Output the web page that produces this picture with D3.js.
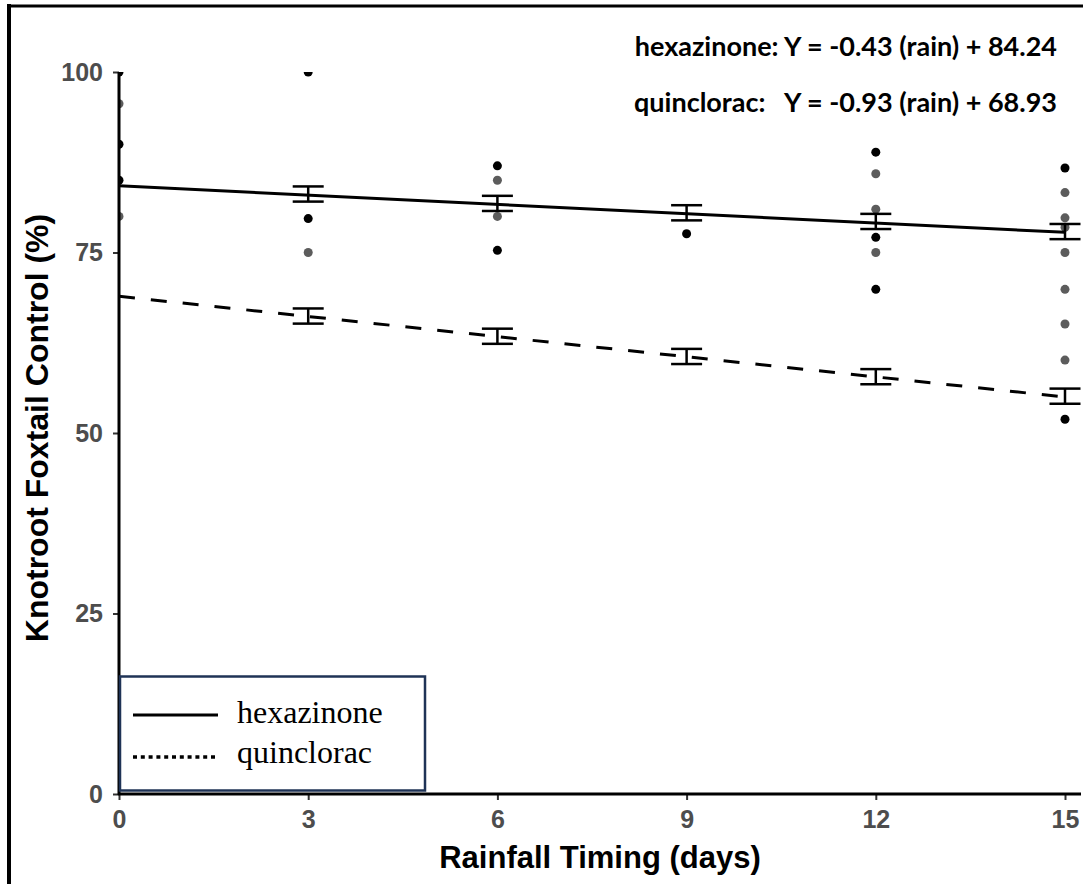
<!DOCTYPE html>
<html>
<head>
<meta charset="utf-8">
<script src="https://cdn.jsdelivr.net/npm/d3@7"></script>
<style>
  html, body { margin: 0; padding: 0; background: #fff; }
  svg { display: block; }
</style>
</head>
<body>
<svg id="chart" width="1083" height="884"></svg>
<script>
// ---------- data ----------
const xTicks = [0, 3, 6, 9, 12, 15];
const yTicks = [0, 25, 50, 75, 100];
const meanDays = [3, 6, 9, 12, 15];
const hexMean = [83.1, 81.8, 80.5, 79.3, 77.9];
const hexSE = [1.05, 1.05, 1.05, 1.05, 1.05];
const quinMean = [66.2, 63.4, 60.6, 57.8, 55.1];
const quinSE = [1.05, 1.05, 1.05, 1.05, 1.05];
const hexCoef = [84.24, -0.43];   // intercept, slope
const quinCoef = [68.93, -0.93];
const darkPoints = [[0,100],[0,90],[0,85],[3,100],[3,79.7],[6,87],[6,75.3],[9,77.6],[12,88.9],[12,77.1],[12,69.9],[15,86.7],[15,51.9]];
const grayPoints = [[0,95.6],[0,80],[3,75],[6,85],[6,80],[12,85.9],[12,81],[12,75],[15,83.3],[15,79.8],[15,78.5],[15,75],[15,69.9],[15,65.1],[15,60.1]];
const equations = ["hexazinone: Y = -0.43 (rain) + 84.24", "quinclorac:   Y = -0.93 (rain) + 68.93"];
const legendLabels = ["hexazinone", "quinclorac"];
const xTitle = "Rainfall Timing (days)";
const yTitle = "Knotroot Foxtail Control (%)";

// ---------- layout ----------
const svg = d3.select("#chart");
const x = d3.scaleLinear().domain([0, 15]).range([119, 1065]);
const y = d3.scaleLinear().domain([0, 100]).range([794, 72]);

svg.append("rect").attr("width", 1083).attr("height", 884).attr("fill", "#fff");

// outer frame (left and top)
svg.append("line").attr("x1", 9).attr("x2", 9).attr("y1", 4).attr("y2", 884)
  .attr("stroke", "#000").attr("stroke-width", 4);
svg.append("line").attr("x1", 7).attr("x2", 1083).attr("y1", 6).attr("y2", 6)
  .attr("stroke", "#000").attr("stroke-width", 3);

// clip
svg.append("clipPath").attr("id", "plotclip").append("rect")
  .attr("x", x(0)).attr("y", y(100)).attr("width", 1083 - x(0)).attr("height", y(0) - y(100));

const plot = svg.append("g").attr("clip-path", "url(#plotclip)");

// points
plot.selectAll("circle.gray").data(grayPoints).join("circle")
  .attr("class", "gray").attr("cx", d => x(d[0])).attr("cy", d => y(d[1]))
  .attr("r", 4.5).attr("fill", "#5c5c5c");
plot.selectAll("circle.dark").data(darkPoints).join("circle")
  .attr("class", "dark").attr("cx", d => x(d[0])).attr("cy", d => y(d[1]))
  .attr("r", 4.5).attr("fill", "#000");

// regression lines
const lineGen = d3.line().x(d => x(d[0])).y(d => y(d[1]));
const fit = (c) => [0, 15].map(t => [t, c[0] + c[1] * t]);
plot.append("path").datum(fit(hexCoef)).attr("d", lineGen)
  .attr("fill", "none").attr("stroke", "#000").attr("stroke-width", 3);
plot.append("path").datum(fit(quinCoef)).attr("d", lineGen)
  .attr("fill", "none").attr("stroke", "#000").attr("stroke-width", 3)
  .attr("stroke-dasharray", "16,16");

// error bars
function errorBars(means, ses) {
  const g = plot.append("g").attr("stroke", "#000").attr("stroke-width", 2.5);
  meanDays.forEach((d, i) => {
    const cx = x(d), lo = y(means[i] - ses[i]), hi = y(means[i] + ses[i]);
    g.append("line").attr("x1", cx).attr("x2", cx).attr("y1", lo).attr("y2", hi);
    g.append("line").attr("x1", cx - 15.5).attr("x2", cx + 15.5).attr("y1", lo).attr("y2", lo);
    g.append("line").attr("x1", cx - 15.5).attr("x2", cx + 15.5).attr("y1", hi).attr("y2", hi);
  });
}
errorBars(hexMean, hexSE);
errorBars(quinMean, quinSE);

// axes
const tickColor = "#4d4d4d";
const xAxis = svg.append("g").attr("transform", `translate(0,${y(0)})`)
  .call(d3.axisBottom(x).tickValues(xTicks).tickSize(6).tickPadding(10));
xAxis.select(".domain").remove();
xAxis.selectAll(".tick line").attr("stroke", "#333").attr("stroke-width", 2);
xAxis.selectAll(".tick text").attr("fill", tickColor)
  .style("font-family", "'Liberation Sans', Arial, sans-serif")
  .style("font-weight", "bold").style("font-size", "25px");
svg.append("line").attr("x1", x(0) - 1).attr("x2", 1081).attr("y1", y(0)).attr("y2", y(0))
  .attr("stroke", "#000").attr("stroke-width", 3);

const yAxis = svg.append("g").attr("transform", `translate(${x(0)},0)`)
  .call(d3.axisLeft(y).tickValues(yTicks).tickSize(6).tickPadding(10));
yAxis.select(".domain").remove();
yAxis.selectAll(".tick line").attr("stroke", "#333").attr("stroke-width", 2);
yAxis.selectAll(".tick text").attr("fill", tickColor)
  .style("font-family", "'Liberation Sans', Arial, sans-serif")
  .style("font-weight", "bold").style("font-size", "25px");
svg.append("line").attr("x1", x(0)).attr("x2", x(0)).attr("y1", y(100)).attr("y2", y(0) + 1)
  .attr("stroke", "#000").attr("stroke-width", 3);

// axis titles
svg.append("text").attr("x", 600).attr("y", 868).attr("text-anchor", "middle")
  .style("font-family", "'Liberation Sans', Arial, sans-serif")
  .style("font-weight", "bold").style("font-size", "31px").attr("fill", "#000")
  .text(xTitle);
svg.append("text").attr("transform", "translate(48,428) rotate(-90)").attr("text-anchor", "middle")
  .style("font-family", "'Liberation Sans', Arial, sans-serif")
  .style("font-weight", "bold").style("font-size", "32px").attr("fill", "#000")
  .text(yTitle);

// equations
svg.selectAll("text.eq").data(equations).join("text").attr("class", "eq")
  .attr("x", 1057).attr("y", (d, i) => 56 + i * 56).attr("text-anchor", "end")
  .attr("xml:space", "preserve").style("white-space", "pre")
  .style("font-family", "Lato, 'Open Sans', sans-serif")
  .style("font-weight", "bold").style("font-size", "27px").attr("fill", "#000")
  .text(d => d);

// legend
const lg = svg.append("g");
lg.append("rect").attr("x", 120).attr("y", 676.5).attr("width", 305).attr("height", 114)
  .attr("fill", "#fff").attr("stroke", "#1f3356").attr("stroke-width", 2.5);
lg.append("line").attr("x1", 133).attr("x2", 218).attr("y1", 715).attr("y2", 715)
  .attr("stroke", "#000").attr("stroke-width", 3);
lg.append("line").attr("x1", 133).attr("x2", 218).attr("y1", 757).attr("y2", 757)
  .attr("stroke", "#000").attr("stroke-width", 3.5).attr("stroke-dasharray", "4,3.8");
lg.selectAll("text").data(legendLabels).join("text")
  .attr("x", 237).attr("y", (d, i) => 723 + i * 40)
  .style("font-family", "'Liberation Serif', 'Times New Roman', serif")
  .style("font-size", "32px").attr("fill", "#000")
  .text(d => d);
</script>
</body>
</html>
